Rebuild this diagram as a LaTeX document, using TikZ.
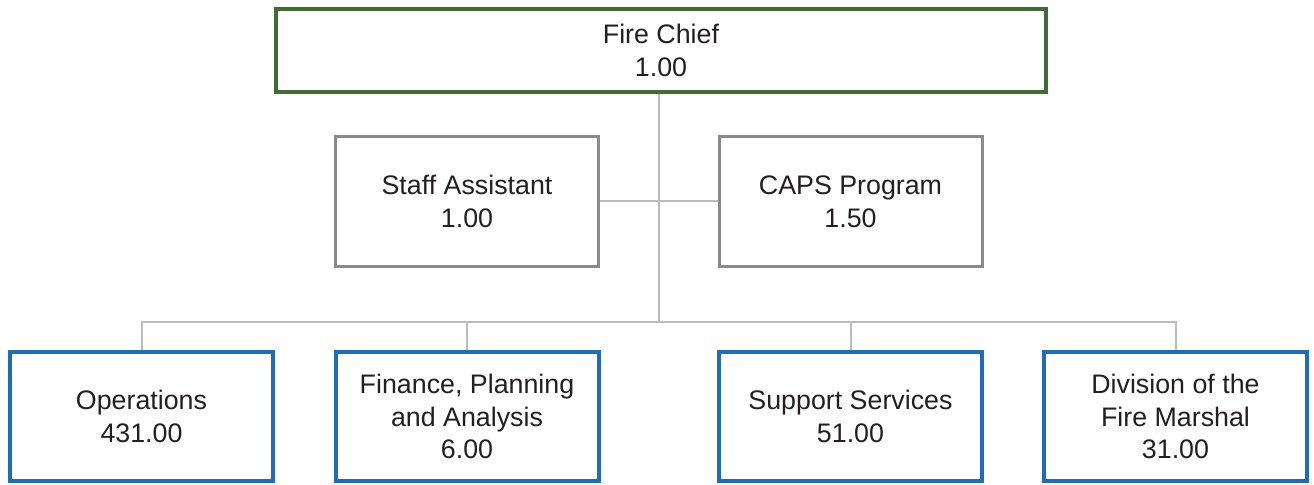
\documentclass[tikz,border=0pt]{standalone}
\usepackage{fontspec}
\setmainfont{Liberation Sans}
\usepackage{tikz}
\usetikzlibrary{positioning, calc}
\definecolor{chiefgreen}{HTML}{3F6B34}
\definecolor{boxgray}{HTML}{8A8A8C}
\definecolor{unitblue}{HTML}{1F6DB4}
\definecolor{linkgray}{HTML}{BDBDBD}
\definecolor{txt}{HTML}{231F20}
\tikzset{
  org/.style  ={rectangle, draw, fill=white, align=center, text=txt, inner sep=0pt, font=\fontsize{13.4}{16.3}\selectfont},
  head/.style ={org, draw=chiefgreen, line width=2pt, minimum width=385pt, minimum height=41.5pt},
  aide/.style ={org, draw=boxgray, line width=1.5pt, minimum width=131.5pt, minimum height=65pt},
  unit/.style ={org, draw=unitblue, line width=2pt, minimum width=131.5pt, minimum height=64.5pt},
  link/.style ={draw=linkgray, line width=1pt},
}

\begin{document}
\begin{tikzpicture}[x=0.5pt, y=-0.5pt]
  \useasboundingbox (0,0) rectangle (1314,485);
  % chief and staff offices
  \node[head] (chief) at (661,50.5) {Fire Chief\\1.00};
  \node[aide] (staff) at (467,201.5) {Staff Assistant\\1.00};
  \node[aide] (caps)  at (850.5,201.5) {CAPS Program\\1.50};
  % divisions
  \node[unit] (ops) at (141.5,416.5)  {Operations\\431.00};
  \node[unit] (fin) at (467,416.5)    {Finance, Planning\\and Analysis\\6.00};
  \node[unit] (sup) at (850.5,416.5)  {Support Services\\51.00};
  \node[unit] (dfm) at (1175.5,416.5) {Division of the\\Fire Marshal\\31.00};
  \coordinate (bus) at (659,322);
  % connectors
  \draw[link] (chief.south -| bus) -- (bus);
  \draw[link] (staff) -- (caps);
  \draw[link] (ops.north) |- (bus) -| (dfm.north);
  \foreach \n in {fin, sup}
    \draw[link] (\n.north) -- (\n.north |- bus);
\end{tikzpicture}
\end{document}
